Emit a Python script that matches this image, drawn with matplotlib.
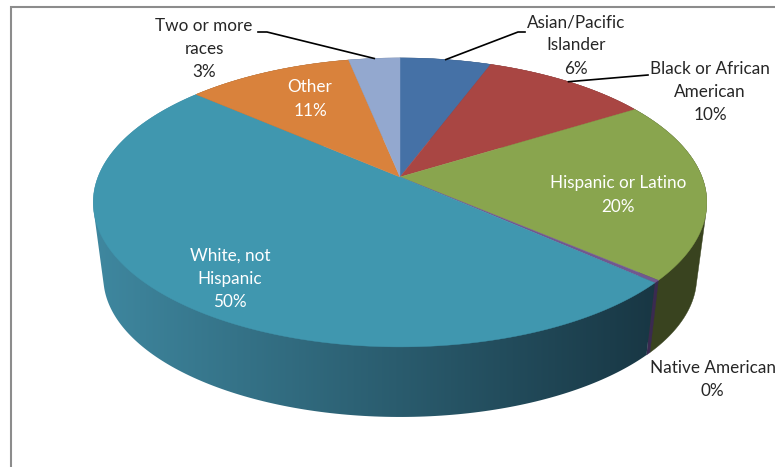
import numpy as np
import matplotlib
matplotlib.use("Agg")
import matplotlib.pyplot as plt
from matplotlib.colors import LinearSegmentedColormap
from matplotlib.patches import Polygon

plt.rcParams["font.family"] = ["Lato", "DejaVu Sans"]

labels = ["Asian/Pacific\nIslander\n6%", "Black or African\nAmerican\n10%",
          "Hispanic or Latino\n20%", "Native American\n0%",
          "White, not\nHispanic\n50%", "Other\n11%", "Two or more\nraces\n3%"]
values = [5.7, 10.5, 20.2, 0.3, 49.9, 10.4, 3.2]
top_colors = ["#4571a6", "#a94643", "#89a54e", "#71588f", "#4097af", "#d9823c", "#93a8cf"]
wall_colors = ["#2c4a6e", "#70302e", "#39431f", "#3a2a50", "#3f88a0", "#8e5526", "#60708c"]
wall_dark = "#183643"

# pie geometry in pixels, perspective squeezes the back of the disc
CX, CY = 400, 177
RX, RY, K = 302, 140, 0.176
VANISH_Y, SHRINK = 2470, 0.967

label_pos = [(576, 45.5), (710, 92), (618, 195), (712.5, 379.5), (230, 279), (310, 99), (204, 49)]
label_color = ["#262626", "#262626", "white", "#262626", "white", "white", "#262626"]


def top_xy(frac):
    a = 2 * np.pi * np.asarray(frac)
    u, v = np.sin(a), np.cos(a)
    d = 1 + K * v
    return CX + RX * u / d, CY - RY * v / d


def bottom_xy(frac):
    x, y = top_xy(frac)
    return CX + SHRINK * (x - CX), VANISH_Y - SHRINK * (VANISH_Y - y)


def half_hull(points):
    out = []
    for p in points:
        while len(out) > 1 and ((out[-1][0] - out[-2][0]) * (p[1] - out[-2][1])
                                - (out[-1][1] - out[-2][1]) * (p[0] - out[-2][0])) <= 0:
            out.pop()
        out.append(p)
    return out[:-1]


def hull(x, y):
    # the wall outline has to take in the straight silhouette edges at the sides
    pts = sorted(zip(x, y))
    return half_hull(pts) + half_hull(pts[::-1])


fig = plt.figure(figsize=(7.75, 4.67), dpi=100)
ax = fig.add_axes([0, 0, 1, 1])
ax.axis("off")

# frame of the chart area, only top and left are in the crop
ax.plot([11, 11, 775], [467, 6.5, 6.5], color="#8c8c8c", lw=1.5, solid_joinstyle="miter")

total = sum(values)
edges = np.concatenate([[0], np.cumsum(values)]) / total

for i in range(len(values)):
    ts = np.linspace(edges[i], edges[i + 1], 200)
    xt, yt = top_xy(ts)
    xb, yb = bottom_xy(ts)
    wall = hull(np.r_[xt, xb], np.r_[yt, yb])
    if i == 4:
        # the big slice has shading running across the wall
        cmap = LinearSegmentedColormap.from_list("wall", [wall_colors[i], wall_dark])
        poly = Polygon(wall, closed=True, fc="none", ec="none", transform=ax.transData)
        ax.add_patch(poly)
        im = ax.imshow(np.linspace(0, 1, 256).reshape(1, -1), cmap=cmap, aspect="auto",
                       extent=(90, 660, 467, 0), interpolation="bilinear", zorder=1)
        im.set_clip_path(poly)
    else:
        ax.add_patch(Polygon(wall, closed=True, fc=wall_colors[i], ec=wall_colors[i], lw=0.3))

for i in range(len(values)):
    ts = np.linspace(edges[i], edges[i + 1], 200)
    x, y = top_xy(ts)
    ax.fill(np.r_[CX, x], np.r_[CY, y], color=top_colors[i], lw=0.3)

ax.set_xlim(0, 775)
ax.set_ylim(467, 0)

for i in range(len(values)):
    x, y = label_pos[i]
    ax.text(x, y, labels[i], color=label_color[i], fontsize=12.3, ha="center", va="center",
            linespacing=1.54, clip_on=True)

# leader lines start at the middle of their slice on the rim
mids = (edges[:-1] + edges[1:]) / 2
for i, elbow in [(0, [(518, 32), (525, 32)]), (1, [(648, 75)]), (6, [(267, 32), (258, 32)])]:
    x, y = top_xy(mids[i])
    ax.plot([x] + [p[0] for p in elbow], [y] + [p[1] for p in elbow], color="black", lw=1.2)

fig.savefig("out.png", dpi=100)
